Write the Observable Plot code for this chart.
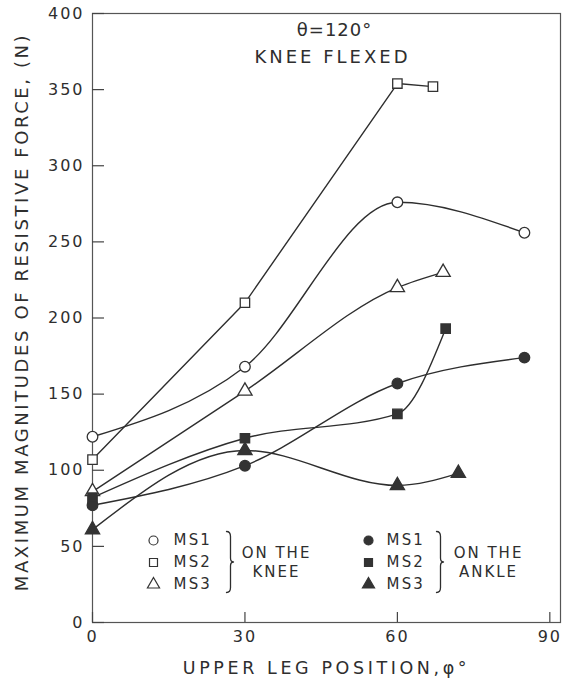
<!DOCTYPE html>
<html>
<head>
<meta charset="utf-8">
<script src="https://cdn.jsdelivr.net/npm/d3@7"></script>
<script src="https://cdn.jsdelivr.net/npm/@observablehq/plot@0.6"></script>
<style>
  html, body { margin: 0; padding: 0; background: #fff; }
  svg { overflow: visible; }
</style>
</head>
<body>
<div id="chart"></div>
<script>
// ---- data ----
const xTicks = [0, 30, 60, 90];
const yTicks = [0, 50, 100, 150, 200, 250, 300, 350, 400];

// Sensors on the knee (open symbols)
const ms1KneeX = [0, 30, 60, 85];
const ms1KneeY = [122, 168, 276, 256];
const ms2KneeX = [0, 30, 60, 67];
const ms2KneeY = [107, 210, 354, 352];
const ms3KneeX = [0, 30, 60, 69];
const ms3KneeY = [86, 152, 220, 230];

// Sensors on the ankle (filled symbols)
const ms1AnkleX = [0, 30, 60, 85];
const ms1AnkleY = [77, 103, 157, 174];
const ms2AnkleX = [0, 30, 60, 69.5];
const ms2AnkleY = [82, 121, 137, 193];
const ms3AnkleX = [0, 30, 60, 72];
const ms3AnkleY = [61, 113, 90, 98];

const sensorNames = ["MS1", "MS2", "MS3"];
const placements = ["knee", "ankle"];
const titleLines = ["θ=120°", "KNEE FLEXED"];
const xLabel = "UPPER LEG POSITION,φ°";
const yLabel = "MAXIMUM MAGNITUDES OF RESISTIVE FORCE, (N)";
const kneeNote = "ON THE\nKNEE";
const ankleNote = "ON THE\nANKLE";

// ---- build table ----
const seriesList = [
  {sensor: "MS1", on: "knee", xs: ms1KneeX, ys: ms1KneeY, curve: "monotone-x"},
  {sensor: "MS2", on: "knee", xs: ms2KneeX, ys: ms2KneeY, curve: "linear"},
  {sensor: "MS3", on: "knee", xs: ms3KneeX, ys: ms3KneeY, curve: "monotone-x"},
  {sensor: "MS1", on: "ankle", xs: ms1AnkleX, ys: ms1AnkleY, curve: "monotone-x"},
  {sensor: "MS2", on: "ankle", xs: ms2AnkleX, ys: ms2AnkleY, curve: "monotone-x"},
  {sensor: "MS3", on: "ankle", xs: ms3AnkleX, ys: ms3AnkleY, curve: "monotone-x"}
];
const rows = seriesList.flatMap(s => s.xs.map((x, i) => ({
  key: s.sensor + "-" + s.on, sensor: s.sensor, on: s.on, x, y: s.ys[i]
})));

const INK = "#2e2e2e";
const FONT = "DejaVu Sans, sans-serif";
const symbolRange = ["circle", "square", "triangle"];
const fillOf = on => on === "ankle" ? "#333" : "white";

// brace shape for vector mark ("}" pointing right), drawn upward from base
const braceShape = {
  draw(context, l) {
    const w = 4, m = l / 2;
    context.moveTo(0, 0);
    context.quadraticCurveTo(w, 0, w, -5);
    context.lineTo(w, -m + 4);
    context.quadraticCurveTo(w, -m, w + 3, -m);
    context.quadraticCurveTo(w, -m, w, -m - 4);
    context.lineTo(w, -l + 5);
    context.quadraticCurveTo(w, -l, 0, -l);
  }
};

// legend layout (pixel offsets from the frame's bottom-left corner)
const legendMarks = [];
placements.forEach((on, pi) => {
  const dx0 = pi === 0 ? 61 : 276;
  const txtDx = pi === 0 ? 81 : 294;
  sensorNames.forEach((name, si) => {
    const dy = -82 + si * 22;
    legendMarks.push(Plot.dot([name], {
      frameAnchor: "bottom-left", dx: dx0, dy,
      symbol: () => symbolRange[si], r: 4.5,
      fill: fillOf(on), stroke: "#333", strokeWidth: 1.2
    }));
    legendMarks.push(Plot.text([name], {
      frameAnchor: "bottom-left", dx: txtDx, dy, text: d => d,
      textAnchor: "start", lineAnchor: "middle", fontSize: 15, fill: INK, fontFamily: FONT
    }));
  });
  legendMarks.push(Plot.vector([on], {
    frameAnchor: "bottom-left", dx: pi === 0 ? 134 : 344, dy: -30,
    length: 61, rotate: 0, anchor: "start", shape: braceShape,
    stroke: INK, strokeWidth: 1.3, fill: "none"
  }));
  legendMarks.push(Plot.text([pi === 0 ? kneeNote : ankleNote], {
    frameAnchor: "bottom-left", dx: pi === 0 ? 184 : 396, dy: -61,
    text: d => d, textAnchor: "middle", lineAnchor: "middle", lineHeight: 1.3,
    fontSize: 15, fill: INK, fontFamily: FONT
  }));
});

const chart = Plot.plot({
  width: 565,
  height: 682,
  marginLeft: 92,
  marginRight: 5,
  marginTop: 13,
  marginBottom: 60,
  style: {fontFamily: FONT, background: "white", color: INK},
  x: {domain: [0, 92.1]},
  y: {domain: [0, 400]},
  symbol: {domain: sensorNames, range: symbolRange},
  marks: [
    Plot.frame({stroke: "#555", strokeWidth: 1.2}),
    // inward tick marks
    Plot.axisY(yTicks, {text: null, label: null, tickSize: 12, dx: 12, stroke: "#444", strokeWidth: 1.2}),
    Plot.axisX(xTicks, {text: null, label: null, tickSize: 10, dy: -10, stroke: "#444", strokeWidth: 1.2}),
    // tick labels
    Plot.axisY(yTicks, {tickSize: 0, tickPadding: 8, fontSize: 16, label: null, fill: INK}),
    Plot.axisX(xTicks, {tickSize: 0, tickPadding: 8, fontSize: 16, label: null, fill: INK}),
    // axis titles
    Plot.text([xLabel], {frameAnchor: "bottom", dx: 0, dy: 46, text: d => d,
      textAnchor: "middle", lineAnchor: "middle", fontSize: 17.5, fill: INK, fontFamily: FONT}),
    Plot.text([yLabel], {frameAnchor: "left", dx: -70, dy: -6, rotate: -90, text: d => d,
      textAnchor: "middle", lineAnchor: "middle",
      fontSize: 18, fill: INK, fontFamily: FONT}),
    // in-plot title
    Plot.text([titleLines[0]], {frameAnchor: "top-left", dx: 242, dy: 17, text: d => d,
      textAnchor: "middle", lineAnchor: "middle",
      fontSize: 18, fill: INK, fontFamily: FONT}),
    Plot.text([titleLines[1]], {frameAnchor: "top-left", dx: 240, dy: 44, text: d => d,
      textAnchor: "middle", lineAnchor: "middle",
      fontSize: 18, fill: INK, fontFamily: FONT}),
    // data
    ...seriesList.map(s => Plot.line(rows.filter(r => r.key === s.sensor + "-" + s.on), {
      x: "x", y: "y", curve: s.curve, stroke: INK, strokeWidth: 1.4})),
    Plot.dot(rows, {x: "x", y: "y", symbol: "sensor", r: 5.3,
      fill: d => fillOf(d.on), stroke: "#333", strokeWidth: 1.3}),
    ...legendMarks
  ]
});

// widen the lettering to match the stencil-style text of the original
const spacingFor = t => {
  if (t === xLabel) return 3.6;
  if (t === yLabel) return 2.6;
  if (t === titleLines[0]) return 1;
  if (t === titleLines[1]) return 3;
  if (sensorNames.includes(t)) return 2.2;
  if (t.startsWith("ON THE")) return 2;
  if (/^\d+$/.test(t)) return 2;
  return 0;
};
d3.select(chart).selectAll("text").each(function () {
  const s = spacingFor(this.textContent);
  if (s) this.setAttribute("letter-spacing", s + "px");
});
document.getElementById("chart").appendChild(chart);
</script>
</body>
</html>
